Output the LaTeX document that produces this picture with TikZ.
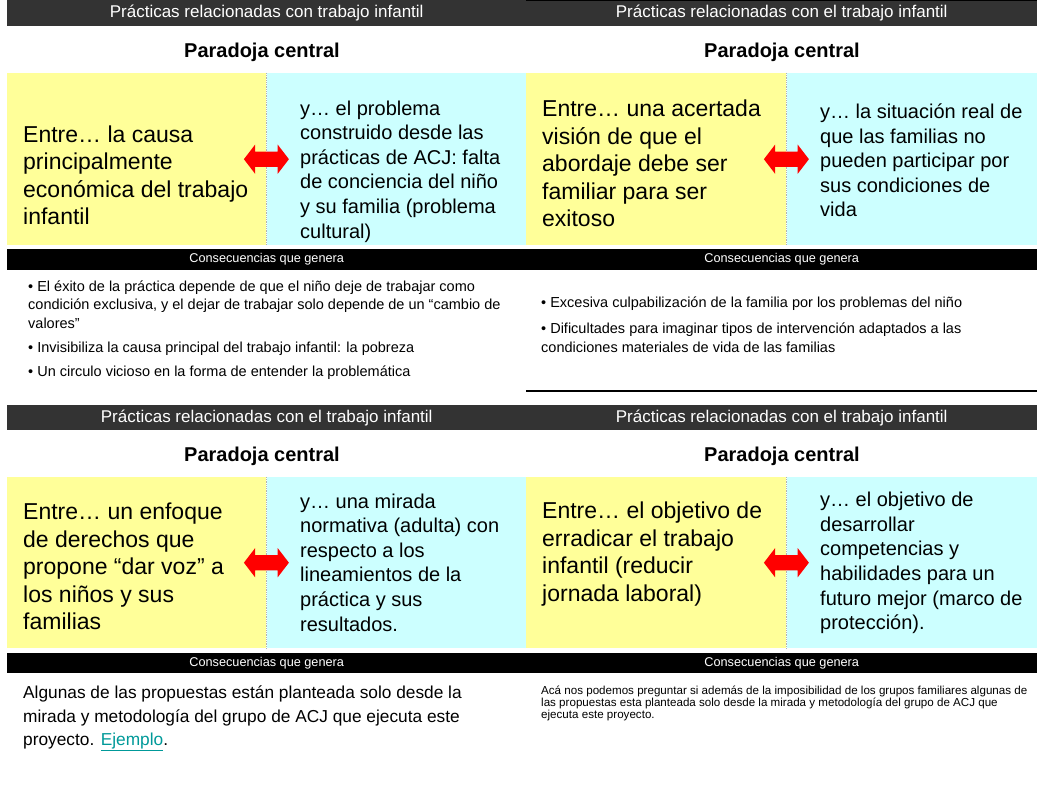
\documentclass[tikz,border=0pt]{standalone}
\usepackage{fontspec}
\setmainfont{Liberation Sans}
\usepackage{xcolor}
\usepackage{tikz}
\usetikzlibrary{positioning}
\usetikzlibrary{shapes, shapes.arrows}
\definecolor{headgrey}{RGB}{51,51,51}
\definecolor{paleyellow}{RGB}{255,255,153}
\definecolor{palecyan}{RGB}{204,255,255}
\definecolor{linkteal}{RGB}{0,153,153}

\begin{document}
\begin{tikzpicture}[
    x=1pt, y=-1pt,% one unit per pixel
       head/.style = {fill=headgrey, text=white, inner sep=0pt, anchor=north west,
                      font=\fontsize{17}{20}\selectfont},% grey title bars
       paratitle/.style = {font=\fontsize{20}{24}\selectfont\bfseries},
       yelbox/.style = {fill=paleyellow, inner sep=0pt, anchor=north west, minimum height=172pt},
       cyanbox/.style = {fill=palecyan, inner sep=0pt, anchor=north west, minimum height=172pt},
       bigtext/.style = {anchor=west, align=left, inner sep=0pt, font=\fontsize{23}{27.5}\selectfont},
       midtext/.style = {anchor=west, align=left, inner sep=0pt, font=\fontsize{20}{24.6}\selectfont},
       consbar/.style = {fill=black, text=white, inner sep=0pt, anchor=north west,
                         minimum height=21pt, font=\fontsize{12.7}{15}\selectfont},
       bullets/.style = {anchor=west, align=left, inner sep=0pt, font=\fontsize{14.5}{18.5}\selectfont},
       twoway/.style = {double arrow, fill=red, inner xsep=0pt, inner ysep=7.5pt, minimum height=45pt,
                        double arrow head extend=7pt, double arrow tip angle=105},% red arrow
       divider/.style = {gray!60, densely dotted, line width=0.8pt}
    ]
    \useasboundingbox (0,0) rectangle (1037,790);

    % top left
    \node (h1) [head, minimum width=519pt, minimum height=26pt] at (7,0) {Prácticas relacionadas con trabajo infantil};
    \node (p1) [paratitle] at (262,52) {Paradoja central};
    \node (y1) [yelbox, minimum width=259pt] at (7,73) {};
    \node (c1) [cyanbox, minimum width=260pt] at (y1.north east) {};
    \draw[divider] (y1.north east) -- (y1.south east);
    \node (e1) [bigtext] at (23,175.5) {Entre… la causa\\principalmente\\económica del trabajo\\infantil};
    \node (f1) [midtext] at (300,171.5) {y… el problema\\construido desde las\\prácticas de ACJ: falta\\de conciencia del niño\\y su familia (problema\\cultural)};
    \node (a1) [twoway] at (y1.east) {};
    \node (k1) [consbar, minimum width=519pt] at (7,249) {Consecuencias que genera};
    \node (r1) [bullets] at (28,330) {• El éxito de la práctica depende de que el niño deje de trabajar como\\condición exclusiva, y el dejar de trabajar solo depende de un “cambio de\\valores”\\[5.5pt]• Invisibiliza la causa principal del trabajo infantil: la pobreza\\[5.5pt]• Un circulo vicioso en la forma de entender la problemática};

    % top right
    \node (h2) [head, minimum width=511pt, minimum height=26pt] at (526,0) {Prácticas relacionadas con el trabajo infantil};
    \draw (h2.north west) -- (h2.north east);
    \node (p2) [paratitle] at (782,52) {Paradoja central};
    \node (y2) [yelbox, minimum width=260pt] at (526,73) {};
    \node (c2) [cyanbox, minimum width=251pt] at (y2.north east) {};
    \draw[divider] (y2.north east) -- (y2.south east);
    \node (e2) [bigtext] at (542,163.5) {Entre… una acertada\\visión de que el\\abordaje debe ser\\familiar para ser\\exitoso};
    \node (f2) [midtext] at (820,160.5) {y… la situación real de\\que las familias no\\pueden participar por\\sus condiciones de\\vida};
    \node (a2) [twoway] at (y2.east) {};
    \node (k2) [consbar, minimum width=511pt] at (526,249) {Consecuencias que genera};
    \node (r2) [bullets] at (541,324.5) {• Excesiva culpabilización de la familia por los problemas del niño\\[7.5pt]• Dificultades para imaginar tipos de intervención adaptados a las\\condiciones materiales de vida de las familias};
    \coordinate (l2) at (526,391);
    \coordinate (l2end) at (1037,391);
    \draw[line width=1.2pt] (l2) -- (l2end);

    % bottom left
    \node (h3) [head, minimum width=519pt, minimum height=25pt] at (7,405) {Prácticas relacionadas con el trabajo infantil};
    \node (p3) [paratitle] at (262,456) {Paradoja central};
    \node (y3) [yelbox, minimum width=259pt, minimum height=171pt] at (7,477) {};
    \node (c3) [cyanbox, minimum width=260pt, minimum height=171pt] at (y3.north east) {};
    \draw[divider] (y3.north east) -- (y3.south east);
    \node (e3) [bigtext] at (23,566.5) {Entre… un enfoque\\de derechos que\\propone “dar voz” a\\los niños y sus\\familias};
    \node (f3) [midtext] at (300,562.5) {y… una mirada\\normativa (adulta) con\\respecto a los\\lineamientos de la\\práctica y sus\\resultados.};
    \node (a3) [twoway] at (y3.east) {};
    \node (k3) [consbar, minimum width=519pt, minimum height=20pt] at (7,653) {Consecuencias que genera};
    \node (r3) [bullets, font=\fontsize{17.3}{23.5}\selectfont] at (23,718.5) {Algunas de las propuestas están planteada solo desde la\\mirada y metodología del grupo de ACJ que ejecuta este\\proyecto. {\color{linkteal}\underline{Ejemplo}}.};

    % bottom right
    \node (h4) [head, minimum width=511pt, minimum height=25pt] at (526,405) {Prácticas relacionadas con el trabajo infantil};
    \node (p4) [paratitle] at (782,456) {Paradoja central};
    \node (y4) [yelbox, minimum width=260pt, minimum height=171pt] at (526,477) {};
    \node (c4) [cyanbox, minimum width=251pt, minimum height=171pt] at (y4.north east) {};
    \draw[divider] (y4.north east) -- (y4.south east);
    \node (e4) [bigtext] at (542,554) {Entre… el objetivo de\\erradicar el trabajo\\infantil (reducir\\jornada laboral)};
    \node (f4) [midtext] at (820,563) {y… el objetivo de\\desarrollar\\competencias y\\habilidades para un\\futuro mejor (marco de\\protección).};
    \node (a4) [twoway] at (y4.east) {};
    \node (k4) [consbar, minimum width=511pt, minimum height=20pt] at (526,653) {Consecuencias que genera};
    \node (r4) [bullets, font=\fontsize{11.6}{12.2}\selectfont] at (541,703.5) {Acá nos podemos preguntar si además de la imposibilidad de los grupos familiares algunas de\\las propuestas esta planteada solo desde la mirada y metodología del grupo de ACJ que\\ejecuta este proyecto.};
\end{tikzpicture}
\end{document}
